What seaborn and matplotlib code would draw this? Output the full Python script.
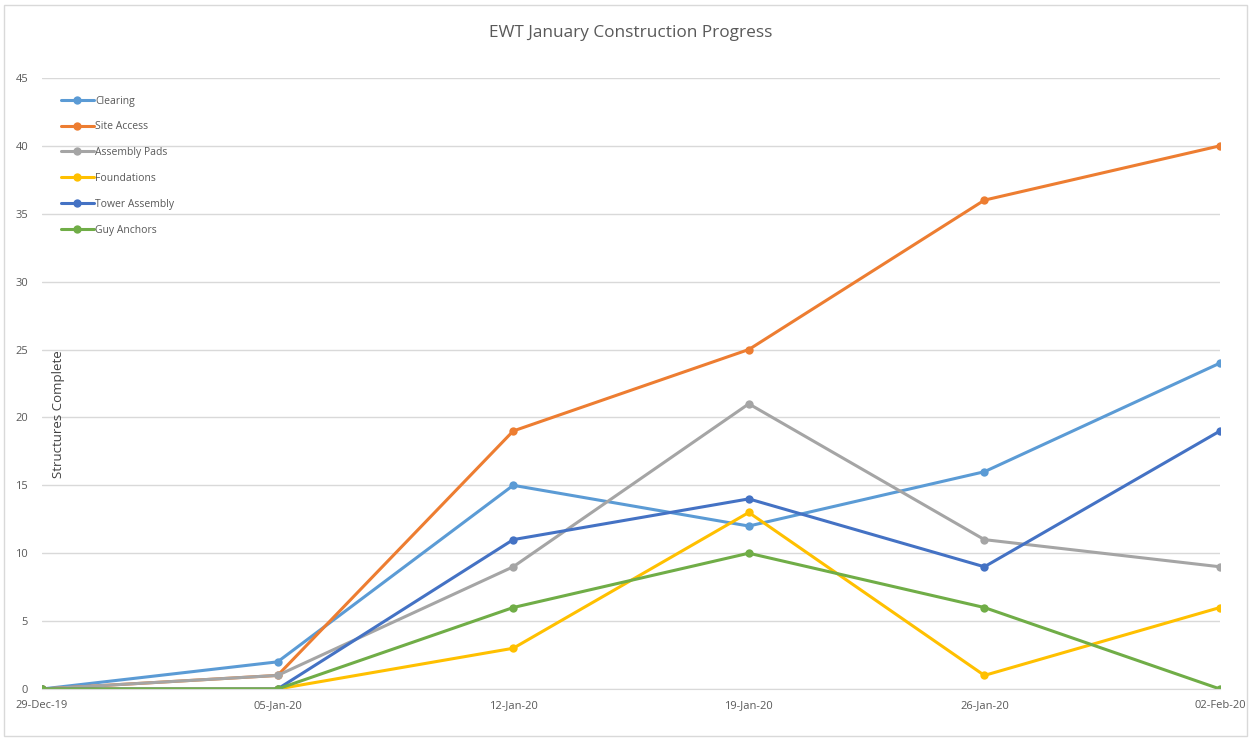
import matplotlib
matplotlib.use("Agg")
import matplotlib.pyplot as plt
import matplotlib.dates as mdates
import seaborn as sns
import pandas as pd

dates = ["2019-12-29", "2020-01-05", "2020-01-12", "2020-01-19", "2020-01-26", "2020-02-02"]
clearing = [0, 2, 15, 12, 16, 24]
site_access = [0, 1, 19, 25, 36, 40]
assembly_pads = [0, 1, 9, 21, 11, 9]
foundations = [0, 0, 3, 13, 1, 6]
tower_assembly = [0, 0, 11, 14, 9, 19]
guy_anchors = [0, 0, 6, 10, 6, 0]

series = {
    "Clearing": clearing,
    "Site Access": site_access,
    "Assembly Pads": assembly_pads,
    "Foundations": foundations,
    "Tower Assembly": tower_assembly,
    "Guy Anchors": guy_anchors,
}
colors = ["#5B9BD5", "#ED7D31", "#A5A5A5", "#FFC000", "#4472C4", "#70AD47"]

rows = []
for name, vals in series.items():
    for d, v in zip(dates, vals):
        rows.append({"Date": pd.Timestamp(d), "Activity": name, "Count": v})
df = pd.DataFrame(rows)

sns.set_style("white")
plt.rcParams['font.family'] = ['Open Sans', 'DejaVu Sans']

fig = plt.figure(figsize=(12.51, 7.38), dpi=100)
ax = fig.add_axes([0.0336, 0.0664, 0.9416, 0.828])

sns.lineplot(data=df, x="Date", y="Count", hue="Activity", palette=colors,
             marker="o", markersize=6, markeredgewidth=0, linewidth=2.2, ax=ax)

ax.set_xlim(pd.Timestamp(dates[0]), pd.Timestamp(dates[-1]))
ax.set_ylim(0, 45)
ax.set_yticks(range(0, 46, 5))
ax.set_xticks([pd.Timestamp(d) for d in dates])
ax.xaxis.set_major_formatter(mdates.DateFormatter("%d-%b-%y"))
ax.yaxis.grid(True, color="#D9D9D9", linewidth=1)
ax.set_axisbelow(True)
for s in ["top", "right", "left"]:
    ax.spines[s].set_visible(False)
ax.spines["bottom"].set_color("#D9D9D9")
ax.tick_params(axis="both", colors="#595959", labelsize=8, length=0, pad=10)
ax.tick_params(axis="x", length=4, color="#D9D9D9", pad=4)
ax.set_xlabel("")
ax.set_ylabel("")

ax.text(0.014, 0.45, "Structures Complete", transform=ax.transAxes, rotation=90,
        ha="center", va="center", fontsize=9.5, color="#404040")

fig.text(0.5045, 0.955, "EWT January Construction Progress", ha="center", va="center",
         fontsize=12.4, color="#595959")

leg = ax.legend(loc="upper left", bbox_to_anchor=(0.008, 0.9865), frameon=False,
                fontsize=7.5, handlelength=3.2, labelspacing=1.42, handletextpad=0.1)
for t in leg.get_texts():
    t.set_color("#595959")

fig.patches.append(plt.Rectangle((0.003, 0.003), 0.994, 0.99, transform=fig.transFigure,
                                 fill=False, edgecolor="#D9D9D9", linewidth=1))

fig.savefig("out.png", dpi=100)
